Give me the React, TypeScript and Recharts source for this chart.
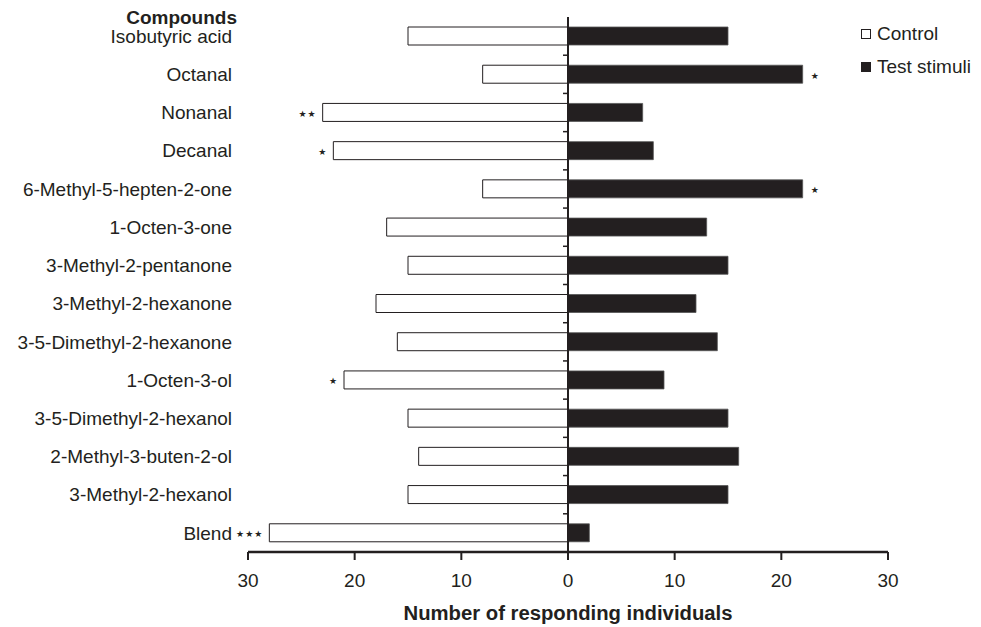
import React from 'react';
import { BarChart, Bar, XAxis, YAxis, ReferenceLine, LabelList, Legend, Label } from 'recharts';

const categories = [
  'Isobutyric acid',
  'Octanal',
  'Nonanal',
  'Decanal',
  '6-Methyl-5-hepten-2-one',
  '1-Octen-3-one',
  '3-Methyl-2-pentanone',
  '3-Methyl-2-hexanone',
  '3-5-Dimethyl-2-hexanone',
  '1-Octen-3-ol',
  '3-5-Dimethyl-2-hexanol',
  '2-Methyl-3-buten-2-ol',
  '3-Methyl-2-hexanol',
  'Blend',
];
const controlValues = [15, 8, 23, 22, 8, 17, 15, 18, 16, 21, 15, 14, 15, 28];
const testValues = [15, 22, 7, 8, 22, 13, 15, 12, 14, 9, 15, 16, 15, 2];
const controlSig = ['', '', '**', '*', '', '', '', '', '', '*', '', '', '', '***'];
const testSig = ['', '*', '', '', '*', '', '', '', '', '', '', '', '', ''];
const xTicks = [-30, -20, -10, 0, 10, 20, 30];

const INK = '#231f20';
const FONT = '"Liberation Sans", Arial, Helvetica, sans-serif';

const data = categories.map((name, i) => ({
  name,
  control: -controlValues[i],
  test: testValues[i],
  cSig: controlSig[i],
  tSig: testSig[i],
}));

const starText = (s: string) => s.replace(/\*/g, '\u2605');

const makeSigLabel = (side: 'left' | 'right') => (props: any) => {
  const { viewBox, value } = props;
  if (!value || !viewBox) return null;
  const { x, y, width, height } = viewBox;
  const left = Math.min(x, x + width);
  const right = Math.max(x, x + width);
  const cy = y + height / 2;
  const tx = side === 'left' ? left - 6 : right + 8;
  return (
    <text
      x={tx}
      y={cy + 4.5}
      textAnchor={side === 'left' ? 'end' : 'start'}
      fontSize={9}
      fill={INK}
      letterSpacing={1}
      fontFamily="DejaVu Sans, sans-serif"
    >
      {starText(String(value))}
    </text>
  );
};

const zeroAxisShape = (props: any) => {
  const { x1, y1, x2, y2 } = props;
  const n = categories.length;
  const step = (y2 - y1) / n;
  const ticks = [];
  for (let i = 0; i < n; i++) {
    const ty = y1 + i * step;
    ticks.push(<line key={i} x1={x1 - 5} x2={x1} y1={ty} y2={ty} stroke={INK} strokeWidth={1.5} />);
  }
  return (
    <g>
      <line x1={x1} x2={x2} y1={y1} y2={y2} stroke={INK} strokeWidth={2} />
      {ticks}
    </g>
  );
};

const renderLegend = (props: any) => {
  const { payload } = props;
  return (
    <div style={{ fontFamily: FONT, fontSize: 19, color: INK }}>
      {(payload || []).map((entry: any, i: number) => {
        const isControl = entry.dataKey === 'control';
        return (
          <div key={i} style={{ display: 'flex', alignItems: 'center', height: 33, whiteSpace: 'nowrap' }}>
            <span
              style={{
                display: 'inline-block',
                width: 10,
                height: 10,
                boxSizing: 'border-box',
                border: `1px solid ${INK}`,
                background: isControl ? '#fff' : INK,
                marginTop: 1,
                marginRight: 6,
              }}
            />
            <span>{entry.value}</span>
          </div>
        );
      })}
    </div>
  );
};

const renderYTitle = (props: any) => {
  const { viewBox } = props;
  if (!viewBox) return null;
  return (
    <text
      x={viewBox.x + viewBox.width - 11}
      y={viewBox.y + 7}
      textAnchor="end"
      fontSize={19}
      fontWeight="bold"
      fill={INK}
      fontFamily={FONT}
    >
      Compounds
    </text>
  );
};

const renderXTitle = (props: any) => {
  const { viewBox } = props;
  if (!viewBox) return null;
  return (
    <text
      x={viewBox.x + viewBox.width / 2}
      y={viewBox.y + 68}
      textAnchor="middle"
      fontSize={20.3}
      fontWeight="bold"
      fill={INK}
      fontFamily={FONT}
    >
      Number of responding individuals
    </text>
  );
};

export default function App() {
  return (
    <div style={{ position: 'absolute', left: 0, top: 0, width: 981, height: 627, background: '#fff' }}>
      <BarChart
        width={981}
        height={627}
        data={data}
        layout="vertical"
        stackOffset="sign"
        margin={{ top: 17, right: 93, left: 0, bottom: 0 }}
        barSize={18}
      >
        <XAxis
          type="number"
          domain={[-30, 30]}
          ticks={xTicks}
          allowDataOverflow
          tickFormatter={(v: number) => String(Math.abs(v))}
          axisLine={{ stroke: INK, strokeWidth: 2.5 }}
          tickLine={{ stroke: INK, strokeWidth: 2 }}
          tickSize={8}
          tickMargin={14}
          height={75}
          tick={{ fontSize: 19, fill: INK, fontFamily: FONT }}
          label={<Label content={renderXTitle} />}
        />
        <YAxis
          type="category"
          dataKey="name"
          width={248}
          axisLine={false}
          tickLine={false}
          tickSize={0}
          tickMargin={16}
          interval={0}
          tick={{ fontSize: 19, fill: INK, fontFamily: FONT }}
          label={<Label content={renderYTitle} />}
        />
        <Legend
          layout="vertical"
          align="center"
          verticalAlign="middle"
          content={renderLegend}
          wrapperStyle={{ left: 861, top: 17, width: 120 }}
        />
        <Bar
          dataKey="control"
          name="Control"
          stackId="a"
          fill="#ffffff"
          stroke={INK}
          strokeWidth={1}
          isAnimationActive={false}
        >
          <LabelList dataKey="cSig" content={makeSigLabel('left')} />
        </Bar>
        <Bar
          dataKey="test"
          name="Test stimuli"
          stackId="a"
          fill={INK}
          stroke="#555"
          strokeWidth={0.8}
          isAnimationActive={false}
        >
          <LabelList dataKey="tSig" content={makeSigLabel('right')} />
        </Bar>
        <ReferenceLine x={0} shape={zeroAxisShape} />
      </BarChart>
    </div>
  );
}
